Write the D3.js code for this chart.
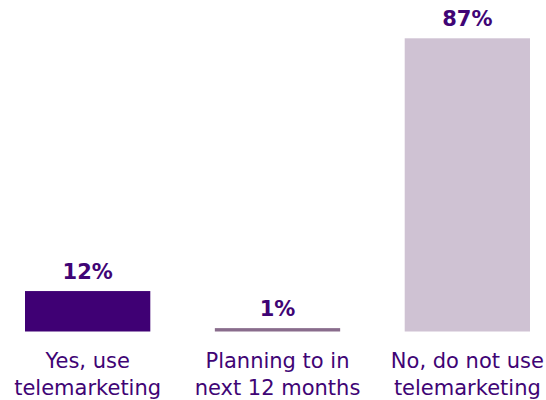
<!DOCTYPE html>
<html>
<head>
<meta charset="utf-8">
<script src="https://cdn.jsdelivr.net/npm/d3@7"></script>
<style>
  html, body { margin: 0; padding: 0; background: #ffffff; }
  svg { display: block; }
</style>
</head>
<body>
<svg id="chart" width="546" height="400"></svg>
<script>
// Share of respondents by telemarketing usage
const categories = [
  ["Yes, use", "telemarketing"],
  ["Planning to in", "next 12 months"],
  ["No, do not use", "telemarketing"]
];
const values = [12, 1, 87];
const valueLabels = ["12%", "1%", "87%"];
const barColors = ["#3f0074", "#896c8c", "#cfc2d3"];

const baseline = 331.5;
const topY = 38.3;
const textColor = "#400475";
const font = "'DejaVu Sans', Verdana, sans-serif";

const svg = d3.select("#chart");

const x = d3.scaleBand()
  .domain(d3.range(values.length))
  .range([25, 530])
  .paddingInner(0.34)
  .paddingOuter(0);

const y = d3.scaleLinear()
  .domain([0, 87])
  .range([baseline, topY]);

// bars
svg.selectAll("rect.bar")
  .data(values)
  .join("rect")
  .attr("class", "bar")
  .attr("x", (d, i) => x(i))
  .attr("width", x.bandwidth())
  .attr("y", d => y(d))
  .attr("height", d => y(0) - y(d))
  .attr("fill", (d, i) => barColors[i]);

// value labels above bars
svg.selectAll("text.value")
  .data(values)
  .join("text")
  .attr("class", "value")
  .attr("x", (d, i) => x(i) + x.bandwidth() / 2)
  .attr("y", d => y(d) - 12.5)
  .attr("text-anchor", "middle")
  .attr("font-family", font)
  .attr("font-weight", "bold")
  .attr("font-size", 21)
  .attr("fill", textColor)
  .text((d, i) => valueLabels[i]);

// category labels (two lines each)
const cat = svg.selectAll("text.cat")
  .data(categories)
  .join("text")
  .attr("class", "cat")
  .attr("text-anchor", "middle")
  .attr("font-family", font)
  .attr("font-size", 21)
  .attr("fill", textColor);

cat.selectAll("tspan")
  .data((lines, i) => lines.map(l => ({ l, i })))
  .join("tspan")
  .attr("x", d => x(d.i) + x.bandwidth() / 2)
  .attr("y", (d, j) => 368 + j * 27)
  .text(d => d.l);
</script>
</body>
</html>
